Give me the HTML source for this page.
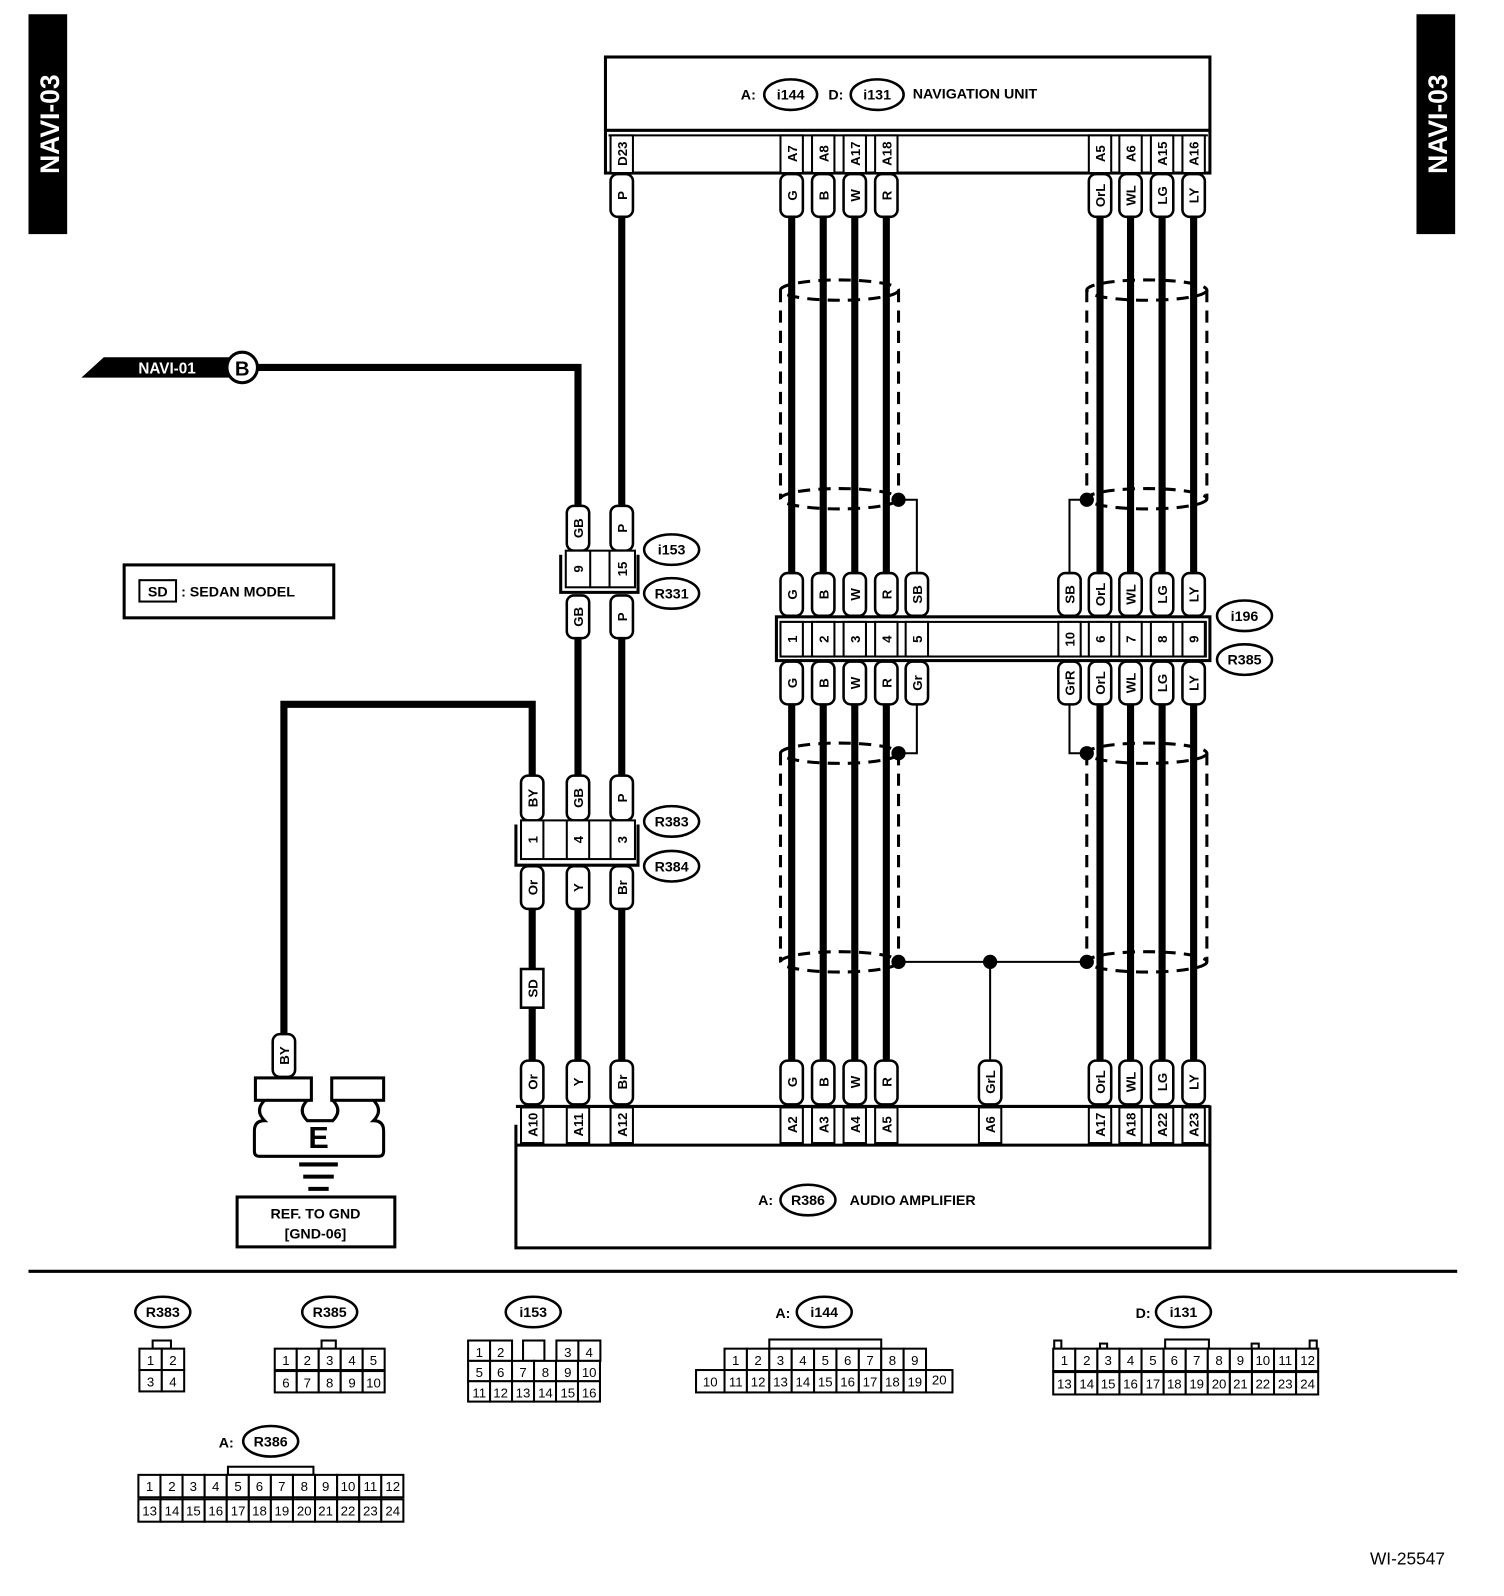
<!DOCTYPE html>
<html><head><meta charset="utf-8"><style>
html,body{margin:0;padding:0;background:#fff;}
svg{display:block}
text{font-family:"Liberation Sans",sans-serif;font-weight:bold;fill:#000}
.t{fill:#fff;stroke:#000;stroke-width:2.5}
.tx{font-size:13px;text-anchor:middle}
.w{stroke:#000;stroke-width:7;fill:none}
.tn{stroke:#000;stroke-width:2;fill:none}
.b{fill:none;stroke:#000;stroke-width:3}
.ds{fill:none;stroke:#000;stroke-width:3;stroke-dasharray:12 8}
.ov{fill:#fff;stroke:#000;stroke-width:2.5}
.ot{font-size:14px;text-anchor:middle}
.c{fill:#fff;stroke:#000;stroke-width:2}
.cn{font-size:13px;text-anchor:middle;font-weight:normal}
</style></head><body>
<svg width="1504" height="1596" viewBox="0 0 1478 1568" preserveAspectRatio="none" xmlns="http://www.w3.org/2000/svg">
<rect x="28" y="14" width="38" height="216" fill="#000"/>
<text transform="translate(58,122) rotate(-90)" style="font-size:26px;fill:#fff;text-anchor:middle">NAVI-03</text>
<rect x="1392" y="14" width="38" height="216" fill="#000"/>
<text transform="translate(1422,122) rotate(-90)" style="font-size:26px;fill:#fff;text-anchor:middle">NAVI-03</text>

<rect x="595" y="56" width="594" height="114" class="b"/>
<line x1="595" y1="128" x2="1189" y2="128" stroke="#000" stroke-width="3"/>
<line x1="598" y1="133" x2="1187" y2="133" stroke="#000" stroke-width="2"/>
<line x1="598" y1="170" x2="1187" y2="170" stroke="#000" stroke-width="2"/>
<text x="728" y="98" style="font-size:14px">A:</text>
<ellipse cx="777" cy="93" rx="26" ry="15" class="ov"/><text x="777" y="98" class="ot">i144</text>
<text x="814" y="98" style="font-size:14px">D:</text>
<ellipse cx="862" cy="93" rx="26" ry="15" class="ov"/><text x="862" y="98" class="ot">i131</text>
<text x="897" y="97" style="font-size:14px">NAVIGATION UNIT</text>
<g>
<rect x="600" y="133" width="22" height="37" class="c"/><text transform="translate(616,151) rotate(-90)" class="tx">D23</text>
<rect x="767" y="133" width="22" height="37" class="c"/><text transform="translate(783,151) rotate(-90)" class="tx">A7</text>
<rect x="798" y="133" width="22" height="37" class="c"/><text transform="translate(814,151) rotate(-90)" class="tx">A8</text>
<rect x="829" y="133" width="22" height="37" class="c"/><text transform="translate(845,151) rotate(-90)" class="tx">A17</text>
<rect x="860" y="133" width="22" height="37" class="c"/><text transform="translate(876,151) rotate(-90)" class="tx">A18</text>
<rect x="1070" y="133" width="22" height="37" class="c"/><text transform="translate(1086,151) rotate(-90)" class="tx">A5</text>
<rect x="1100" y="133" width="22" height="37" class="c"/><text transform="translate(1116,151) rotate(-90)" class="tx">A6</text>
<rect x="1131" y="133" width="22" height="37" class="c"/><text transform="translate(1147,151) rotate(-90)" class="tx">A15</text>
<rect x="1162" y="133" width="22" height="37" class="c"/><text transform="translate(1178,151) rotate(-90)" class="tx">A16</text>
</g>

<g class="w">
<line x1="611" y1="210" x2="611" y2="500"/>
<line x1="611" y1="625" x2="611" y2="765"/>
<line x1="568" y1="625" x2="568" y2="765"/>
<polyline points="240,361 568,361 568,500"/>
<polyline points="523,765 523,692 279,692 279,1018"/>
<line x1="523" y1="890" x2="523" y2="1043"/>
<line x1="568" y1="890" x2="568" y2="1043"/>
<line x1="611" y1="890" x2="611" y2="1043"/>
<line x1="778" y1="210" x2="778" y2="566"/><line x1="809" y1="210" x2="809" y2="566"/><line x1="840" y1="210" x2="840" y2="566"/><line x1="871" y1="210" x2="871" y2="566"/>
<line x1="1081" y1="210" x2="1081" y2="566"/><line x1="1111" y1="210" x2="1111" y2="566"/><line x1="1142" y1="210" x2="1142" y2="566"/><line x1="1173" y1="210" x2="1173" y2="566"/>
<line x1="778" y1="690" x2="778" y2="1043"/><line x1="809" y1="690" x2="809" y2="1043"/><line x1="840" y1="690" x2="840" y2="1043"/><line x1="871" y1="690" x2="871" y2="1043"/>
<line x1="1081" y1="690" x2="1081" y2="1043"/><line x1="1111" y1="690" x2="1111" y2="1043"/><line x1="1142" y1="690" x2="1142" y2="1043"/><line x1="1173" y1="690" x2="1173" y2="1043"/>
</g>
<g class="tn">
<polyline points="883,491 901,491 901,566"/>
<polyline points="1068,491 1051,491 1051,566"/>
<polyline points="901,690 901,740 883,740"/>
<polyline points="1051,690 1051,740 1068,740"/>
<line x1="883" y1="945" x2="1068" y2="945"/>
<line x1="973" y1="945" x2="973" y2="1043"/>
</g>
<g fill="#000">
<circle cx="883" cy="491" r="7"/><circle cx="1068" cy="491" r="7"/>
<circle cx="883" cy="740" r="7"/><circle cx="1068" cy="740" r="7"/>
<circle cx="883" cy="945" r="7"/><circle cx="1068" cy="945" r="7"/><circle cx="973" cy="945" r="7"/>
</g>
<g class="ds">
<ellipse cx="825" cy="285" rx="58" ry="10"/><ellipse cx="825" cy="490" rx="58" ry="10"/>
<line x1="767" y1="285" x2="767" y2="490"/><line x1="883" y1="285" x2="883" y2="490"/>
<ellipse cx="1127" cy="285" rx="59" ry="10"/><ellipse cx="1127" cy="490" rx="59" ry="10"/>
<line x1="1068" y1="285" x2="1068" y2="490"/><line x1="1186" y1="285" x2="1186" y2="490"/>
<ellipse cx="825" cy="740" rx="58" ry="10"/><ellipse cx="825" cy="945" rx="58" ry="10"/>
<line x1="767" y1="740" x2="767" y2="945"/><line x1="883" y1="740" x2="883" y2="945"/>
<ellipse cx="1127" cy="740" rx="59" ry="10"/><ellipse cx="1127" cy="945" rx="59" ry="10"/>
<line x1="1068" y1="740" x2="1068" y2="945"/><line x1="1186" y1="740" x2="1186" y2="945"/>
</g>

<g>
<rect x="600" y="171" width="22" height="42" rx="7" class="t"/><text transform="translate(616,192) rotate(-90)" class="tx">P</text>
<rect x="767" y="171" width="22" height="42" rx="7" class="t"/><text transform="translate(783,192) rotate(-90)" class="tx">G</text>
<rect x="798" y="171" width="22" height="42" rx="7" class="t"/><text transform="translate(814,192) rotate(-90)" class="tx">B</text>
<rect x="829" y="171" width="22" height="42" rx="7" class="t"/><text transform="translate(845,192) rotate(-90)" class="tx">W</text>
<rect x="860" y="171" width="22" height="42" rx="7" class="t"/><text transform="translate(876,192) rotate(-90)" class="tx">R</text>
<rect x="1070" y="171" width="22" height="42" rx="7" class="t"/><text transform="translate(1086,192) rotate(-90)" class="tx">OrL</text>
<rect x="1100" y="171" width="22" height="42" rx="7" class="t"/><text transform="translate(1116,192) rotate(-90)" class="tx">WL</text>
<rect x="1131" y="171" width="22" height="42" rx="7" class="t"/><text transform="translate(1147,192) rotate(-90)" class="tx">LG</text>
<rect x="1162" y="171" width="22" height="42" rx="7" class="t"/><text transform="translate(1178,192) rotate(-90)" class="tx">LY</text>
</g>

<polygon points="80,371 102,351 225,351 225,371" fill="#000"/>
<text x="136" y="367" style="font-size:15px;fill:#fff">NAVI-01</text>
<circle cx="238" cy="361" r="15" fill="#fff" stroke="#000" stroke-width="3"/>
<text x="238" y="369" style="font-size:20px;text-anchor:middle">B</text>

<rect x="557" y="497" width="22" height="44" rx="7" class="t"/><text transform="translate(573,519) rotate(-90)" class="tx">GB</text>
<rect x="600" y="497" width="22" height="44" rx="7" class="t"/><text transform="translate(616,519) rotate(-90)" class="tx">P</text>
<polyline points="551,545 551,582 627,582 627,545" class="b"/>
<rect x="556" y="541" width="68" height="36" class="c"/>
<line x1="580" y1="541" x2="580" y2="577" stroke="#000" stroke-width="2"/><line x1="599" y1="541" x2="599" y2="577" stroke="#000" stroke-width="2"/>
<text transform="translate(573,559) rotate(-90)" class="tx">9</text>
<text transform="translate(616,559) rotate(-90)" class="tx">15</text>
<rect x="557" y="585" width="22" height="42" rx="7" class="t"/><text transform="translate(573,606) rotate(-90)" class="tx">GB</text>
<rect x="600" y="585" width="22" height="42" rx="7" class="t"/><text transform="translate(616,606) rotate(-90)" class="tx">P</text>
<ellipse cx="660" cy="540" rx="27" ry="15" class="ov"/><text x="660" y="545" class="ot">i153</text>
<ellipse cx="660" cy="583" rx="27" ry="15" class="ov"/><text x="660" y="588" class="ot">R331</text>

<rect x="122" y="555" width="206" height="52" class="b"/>
<rect x="137" y="570" width="36" height="21" class="c"/>
<text x="155" y="586" style="font-size:14px;text-anchor:middle">SD</text>
<text x="178" y="586" style="font-size:14px">: SEDAN MODEL</text>

<g>
<rect x="767" y="563" width="22" height="42" rx="7" class="t"/><text transform="translate(783,584) rotate(-90)" class="tx">G</text>
<rect x="798" y="563" width="22" height="42" rx="7" class="t"/><text transform="translate(814,584) rotate(-90)" class="tx">B</text>
<rect x="829" y="563" width="22" height="42" rx="7" class="t"/><text transform="translate(845,584) rotate(-90)" class="tx">W</text>
<rect x="860" y="563" width="22" height="42" rx="7" class="t"/><text transform="translate(876,584) rotate(-90)" class="tx">R</text>
<rect x="890" y="563" width="22" height="42" rx="7" class="t"/><text transform="translate(906,584) rotate(-90)" class="tx">SB</text>
<rect x="1040" y="563" width="22" height="42" rx="7" class="t"/><text transform="translate(1056,584) rotate(-90)" class="tx">SB</text>
<rect x="1070" y="563" width="22" height="42" rx="7" class="t"/><text transform="translate(1086,584) rotate(-90)" class="tx">OrL</text>
<rect x="1100" y="563" width="22" height="42" rx="7" class="t"/><text transform="translate(1116,584) rotate(-90)" class="tx">WL</text>
<rect x="1131" y="563" width="22" height="42" rx="7" class="t"/><text transform="translate(1147,584) rotate(-90)" class="tx">LG</text>
<rect x="1162" y="563" width="22" height="42" rx="7" class="t"/><text transform="translate(1178,584) rotate(-90)" class="tx">LY</text>
</g>
<rect x="763" y="606" width="426" height="43" class="b"/>
<rect x="767" y="611" width="418" height="34" class="c"/>
<g>
<rect x="767" y="611" width="22" height="34" class="c"/><text transform="translate(783,628) rotate(-90)" class="tx">1</text>
<rect x="798" y="611" width="22" height="34" class="c"/><text transform="translate(814,628) rotate(-90)" class="tx">2</text>
<rect x="829" y="611" width="22" height="34" class="c"/><text transform="translate(845,628) rotate(-90)" class="tx">3</text>
<rect x="860" y="611" width="22" height="34" class="c"/><text transform="translate(876,628) rotate(-90)" class="tx">4</text>
<rect x="890" y="611" width="22" height="34" class="c"/><text transform="translate(906,628) rotate(-90)" class="tx">5</text>
<rect x="1040" y="611" width="22" height="34" class="c"/><text transform="translate(1056,628) rotate(-90)" class="tx">10</text>
<rect x="1070" y="611" width="22" height="34" class="c"/><text transform="translate(1086,628) rotate(-90)" class="tx">6</text>
<rect x="1100" y="611" width="22" height="34" class="c"/><text transform="translate(1116,628) rotate(-90)" class="tx">7</text>
<rect x="1131" y="611" width="22" height="34" class="c"/><text transform="translate(1147,628) rotate(-90)" class="tx">8</text>
<rect x="1162" y="611" width="22" height="34" class="c"/><text transform="translate(1178,628) rotate(-90)" class="tx">9</text>
</g>
<g>
<rect x="767" y="650" width="22" height="42" rx="7" class="t"/><text transform="translate(783,671) rotate(-90)" class="tx">G</text>
<rect x="798" y="650" width="22" height="42" rx="7" class="t"/><text transform="translate(814,671) rotate(-90)" class="tx">B</text>
<rect x="829" y="650" width="22" height="42" rx="7" class="t"/><text transform="translate(845,671) rotate(-90)" class="tx">W</text>
<rect x="860" y="650" width="22" height="42" rx="7" class="t"/><text transform="translate(876,671) rotate(-90)" class="tx">R</text>
<rect x="890" y="650" width="22" height="42" rx="7" class="t"/><text transform="translate(906,671) rotate(-90)" class="tx">Gr</text>
<rect x="1040" y="650" width="22" height="42" rx="7" class="t"/><text transform="translate(1056,671) rotate(-90)" class="tx">GrR</text>
<rect x="1070" y="650" width="22" height="42" rx="7" class="t"/><text transform="translate(1086,671) rotate(-90)" class="tx">OrL</text>
<rect x="1100" y="650" width="22" height="42" rx="7" class="t"/><text transform="translate(1116,671) rotate(-90)" class="tx">WL</text>
<rect x="1131" y="650" width="22" height="42" rx="7" class="t"/><text transform="translate(1147,671) rotate(-90)" class="tx">LG</text>
<rect x="1162" y="650" width="22" height="42" rx="7" class="t"/><text transform="translate(1178,671) rotate(-90)" class="tx">LY</text>
</g>
<ellipse cx="1223" cy="605" rx="27" ry="15" class="ov"/><text x="1223" y="610" class="ot">i196</text>
<ellipse cx="1223" cy="648" rx="27" ry="15" class="ov"/><text x="1223" y="653" class="ot">R385</text>

<rect x="512" y="762" width="22" height="44" rx="7" class="t"/><text transform="translate(528,784) rotate(-90)" class="tx">BY</text>
<rect x="557" y="762" width="22" height="44" rx="7" class="t"/><text transform="translate(573,784) rotate(-90)" class="tx">GB</text>
<rect x="600" y="762" width="22" height="44" rx="7" class="t"/><text transform="translate(616,784) rotate(-90)" class="tx">P</text>
<polyline points="507,810 507,850 627,850 627,810" class="b"/>
<rect x="512" y="806" width="112" height="38" class="c"/>
<g stroke="#000" stroke-width="2"><line x1="534" y1="806" x2="534" y2="844"/><line x1="557" y1="806" x2="557" y2="844"/><line x1="579" y1="806" x2="579" y2="844"/><line x1="600" y1="806" x2="600" y2="844"/></g>
<text transform="translate(528,825) rotate(-90)" class="tx">1</text>
<text transform="translate(573,825) rotate(-90)" class="tx">4</text>
<text transform="translate(616,825) rotate(-90)" class="tx">3</text>
<rect x="512" y="851" width="22" height="42" rx="7" class="t"/><text transform="translate(528,872) rotate(-90)" class="tx">Or</text>
<rect x="557" y="851" width="22" height="42" rx="7" class="t"/><text transform="translate(573,872) rotate(-90)" class="tx">Y</text>
<rect x="600" y="851" width="22" height="42" rx="7" class="t"/><text transform="translate(616,872) rotate(-90)" class="tx">Br</text>
<ellipse cx="660" cy="807" rx="27" ry="15" class="ov"/><text x="660" y="812" class="ot">R383</text>
<ellipse cx="660" cy="851" rx="27" ry="15" class="ov"/><text x="660" y="856" class="ot">R384</text>

<rect x="512" y="952" width="22" height="38" class="c" style="stroke-width:2.5"/><text transform="translate(528,971) rotate(-90)" class="tx">SD</text>

<rect x="268" y="1016" width="22" height="42" rx="7" class="t"/><text transform="translate(284,1037) rotate(-90)" class="tx">BY</text>
<rect x="251" y="1059" width="55" height="22" class="b"/>
<rect x="326" y="1059" width="51" height="22" class="b"/>
<path d="M260,1081 q-10,10 0,20 q-10,0 -10,10 v20 q0,5 5,5 h117 q5,0 5,-5 v-20 q0,-10 -10,-10 q10,-10 0,-20 M302,1081 q-10,10 0,20 h25 q10,-10 0,-20" class="b"/>
<text x="313" y="1128" style="font-size:30px;text-anchor:middle">E</text>
<g stroke="#000" stroke-width="4"><line x1="294" y1="1144" x2="332" y2="1144"/><line x1="298" y1="1156" x2="328" y2="1156"/><line x1="303" y1="1168" x2="323" y2="1168"/></g>
<rect x="233" y="1176" width="155" height="49" class="b"/>
<text x="310" y="1197" style="font-size:14px;text-anchor:middle">REF. TO GND</text>
<text x="310" y="1217" style="font-size:14px;text-anchor:middle">[GND-06]</text>

<g>
<rect x="512" y="1042" width="22" height="43" rx="7" class="t"/><text transform="translate(528,1063) rotate(-90)" class="tx">Or</text>
<rect x="557" y="1042" width="22" height="43" rx="7" class="t"/><text transform="translate(573,1063) rotate(-90)" class="tx">Y</text>
<rect x="600" y="1042" width="22" height="43" rx="7" class="t"/><text transform="translate(616,1063) rotate(-90)" class="tx">Br</text>
<rect x="767" y="1042" width="22" height="43" rx="7" class="t"/><text transform="translate(783,1063) rotate(-90)" class="tx">G</text>
<rect x="798" y="1042" width="22" height="43" rx="7" class="t"/><text transform="translate(814,1063) rotate(-90)" class="tx">B</text>
<rect x="829" y="1042" width="22" height="43" rx="7" class="t"/><text transform="translate(845,1063) rotate(-90)" class="tx">W</text>
<rect x="860" y="1042" width="22" height="43" rx="7" class="t"/><text transform="translate(876,1063) rotate(-90)" class="tx">R</text>
<rect x="962" y="1042" width="22" height="43" rx="7" class="t"/><text transform="translate(978,1063) rotate(-90)" class="tx">GrL</text>
<rect x="1070" y="1042" width="22" height="43" rx="7" class="t"/><text transform="translate(1086,1063) rotate(-90)" class="tx">OrL</text>
<rect x="1100" y="1042" width="22" height="43" rx="7" class="t"/><text transform="translate(1116,1063) rotate(-90)" class="tx">WL</text>
<rect x="1131" y="1042" width="22" height="43" rx="7" class="t"/><text transform="translate(1147,1063) rotate(-90)" class="tx">LG</text>
<rect x="1162" y="1042" width="22" height="43" rx="7" class="t"/><text transform="translate(1178,1063) rotate(-90)" class="tx">LY</text>
</g>

<polyline points="507,1105 507,1226 1189,1226 1189,1086" class="b"/>
<line x1="507" y1="1087" x2="1189" y2="1087" stroke="#000" stroke-width="3"/>
<line x1="507" y1="1125" x2="1189" y2="1125" stroke="#000" stroke-width="3"/>
<g>
<rect x="512" y="1088" width="22" height="35" class="c"/><text transform="translate(528,1105) rotate(-90)" class="tx">A10</text>
<rect x="557" y="1088" width="22" height="35" class="c"/><text transform="translate(573,1105) rotate(-90)" class="tx">A11</text>
<rect x="600" y="1088" width="22" height="35" class="c"/><text transform="translate(616,1105) rotate(-90)" class="tx">A12</text>
<rect x="767" y="1088" width="22" height="35" class="c"/><text transform="translate(783,1105) rotate(-90)" class="tx">A2</text>
<rect x="798" y="1088" width="22" height="35" class="c"/><text transform="translate(814,1105) rotate(-90)" class="tx">A3</text>
<rect x="829" y="1088" width="22" height="35" class="c"/><text transform="translate(845,1105) rotate(-90)" class="tx">A4</text>
<rect x="860" y="1088" width="22" height="35" class="c"/><text transform="translate(876,1105) rotate(-90)" class="tx">A5</text>
<rect x="962" y="1088" width="22" height="35" class="c"/><text transform="translate(978,1105) rotate(-90)" class="tx">A6</text>
<rect x="1070" y="1088" width="22" height="35" class="c"/><text transform="translate(1086,1105) rotate(-90)" class="tx">A17</text>
<rect x="1100" y="1088" width="22" height="35" class="c"/><text transform="translate(1116,1105) rotate(-90)" class="tx">A18</text>
<rect x="1131" y="1088" width="22" height="35" class="c"/><text transform="translate(1147,1105) rotate(-90)" class="tx">A22</text>
<rect x="1162" y="1088" width="22" height="35" class="c"/><text transform="translate(1178,1105) rotate(-90)" class="tx">A23</text>
</g>
<text x="745" y="1184" style="font-size:14px">A:</text>
<ellipse cx="794" cy="1179" rx="27" ry="15" class="ov"/><text x="794" y="1184" class="ot">R386</text>
<text x="835" y="1184" style="font-size:14px">AUDIO AMPLIFIER</text>

<line x1="28" y1="1249" x2="1432" y2="1249" stroke="#000" stroke-width="3"/>

<ellipse cx="160" cy="1289" rx="27" ry="15" class="ov"/><text x="160" y="1294" class="ot">R383</text>
<rect x="150" y="1317" width="18" height="8" class="c"/>
<rect x="137" y="1325" width="22" height="21" class="c"/><text x="148" y="1341" class="cn">1</text>
<rect x="159" y="1325" width="22" height="21" class="c"/><text x="170" y="1341" class="cn">2</text>
<rect x="137" y="1346" width="22" height="21" class="c"/><text x="148" y="1362" class="cn">3</text>
<rect x="159" y="1346" width="22" height="21" class="c"/><text x="170" y="1362" class="cn">4</text>

<ellipse cx="324" cy="1289" rx="27" ry="15" class="ov"/><text x="324" y="1294" class="ot">R385</text>
<rect x="316" y="1317" width="14" height="8" class="c"/>
<g>
<rect x="270" y="1325" width="21.6" height="21" class="c"/><text x="281" y="1341" class="cn">1</text>
<rect x="291.6" y="1325" width="21.6" height="21" class="c"/><text x="302" y="1341" class="cn">2</text>
<rect x="313.2" y="1325" width="21.6" height="21" class="c"/><text x="324" y="1341" class="cn">3</text>
<rect x="334.8" y="1325" width="21.6" height="21" class="c"/><text x="346" y="1341" class="cn">4</text>
<rect x="356.4" y="1325" width="21.6" height="21" class="c"/><text x="367" y="1341" class="cn">5</text>
<rect x="270" y="1347" width="21.6" height="21" class="c"/><text x="281" y="1363" class="cn">6</text>
<rect x="291.6" y="1347" width="21.6" height="21" class="c"/><text x="302" y="1363" class="cn">7</text>
<rect x="313.2" y="1347" width="21.6" height="21" class="c"/><text x="324" y="1363" class="cn">8</text>
<rect x="334.8" y="1347" width="21.6" height="21" class="c"/><text x="346" y="1363" class="cn">9</text>
<rect x="356.4" y="1347" width="21.6" height="21" class="c"/><text x="367" y="1363" class="cn">10</text>
</g>

<ellipse cx="524" cy="1289" rx="27" ry="15" class="ov"/><text x="524" y="1294" class="ot">i153</text>
<g>
<rect x="460" y="1317" width="21.6" height="20" class="c"/><text x="471" y="1333" class="cn">1</text>
<rect x="481.6" y="1317" width="21.6" height="20" class="c"/><text x="492" y="1333" class="cn">2</text>
<rect x="514" y="1317" width="21" height="20" class="c"/>
<rect x="546.8" y="1317" width="21.6" height="20" class="c"/><text x="558" y="1333" class="cn">3</text>
<rect x="568.4" y="1317" width="21.6" height="20" class="c"/><text x="579" y="1333" class="cn">4</text>
<rect x="460" y="1337" width="21.6" height="20" class="c"/><text x="471" y="1353" class="cn">5</text>
<rect x="481.6" y="1337" width="21.6" height="20" class="c"/><text x="492" y="1353" class="cn">6</text>
<rect x="503.2" y="1337" width="21.6" height="20" class="c"/><text x="514" y="1353" class="cn">7</text>
<rect x="524.8" y="1337" width="21.6" height="20" class="c"/><text x="536" y="1353" class="cn">8</text>
<rect x="546.4" y="1337" width="21.6" height="20" class="c"/><text x="558" y="1353" class="cn">9</text>
<rect x="568" y="1337" width="21.6" height="20" class="c"/><text x="579" y="1353" class="cn">10</text>
<rect x="460" y="1357" width="21.6" height="20" class="c"/><text x="471" y="1373" class="cn">11</text>
<rect x="481.6" y="1357" width="21.6" height="20" class="c"/><text x="492" y="1373" class="cn">12</text>
<rect x="503.2" y="1357" width="21.6" height="20" class="c"/><text x="514" y="1373" class="cn">13</text>
<rect x="524.8" y="1357" width="21.6" height="20" class="c"/><text x="536" y="1373" class="cn">14</text>
<rect x="546.4" y="1357" width="21.6" height="20" class="c"/><text x="558" y="1373" class="cn">15</text>
<rect x="568" y="1357" width="21.6" height="20" class="c"/><text x="579" y="1373" class="cn">16</text>
</g>

<text x="762" y="1295" style="font-size:14px">A:</text>
<ellipse cx="810" cy="1289" rx="27" ry="15" class="ov"/><text x="810" y="1294" class="ot">i144</text>
<rect x="756" y="1316" width="110" height="9" class="c"/>
<g>
<rect x="712" y="1325" width="22" height="21" class="c"/><text x="723" y="1341" class="cn">1</text>
<rect x="734" y="1325" width="22" height="21" class="c"/><text x="745" y="1341" class="cn">2</text>
<rect x="756" y="1325" width="22" height="21" class="c"/><text x="767" y="1341" class="cn">3</text>
<rect x="778" y="1325" width="22" height="21" class="c"/><text x="789" y="1341" class="cn">4</text>
<rect x="800" y="1325" width="22" height="21" class="c"/><text x="811" y="1341" class="cn">5</text>
<rect x="822" y="1325" width="22" height="21" class="c"/><text x="833" y="1341" class="cn">6</text>
<rect x="844" y="1325" width="22" height="21" class="c"/><text x="855" y="1341" class="cn">7</text>
<rect x="866" y="1325" width="22" height="21" class="c"/><text x="877" y="1341" class="cn">8</text>
<rect x="888" y="1325" width="22" height="21" class="c"/><text x="899" y="1341" class="cn">9</text>
<rect x="684" y="1346" width="28" height="22" class="c"/><text x="698" y="1362" class="cn">10</text>
<rect x="712" y="1346" width="22" height="22" class="c"/><text x="723" y="1362" class="cn">11</text>
<rect x="734" y="1346" width="22" height="22" class="c"/><text x="745" y="1362" class="cn">12</text>
<rect x="756" y="1346" width="22" height="22" class="c"/><text x="767" y="1362" class="cn">13</text>
<rect x="778" y="1346" width="22" height="22" class="c"/><text x="789" y="1362" class="cn">14</text>
<rect x="800" y="1346" width="22" height="22" class="c"/><text x="811" y="1362" class="cn">15</text>
<rect x="822" y="1346" width="22" height="22" class="c"/><text x="833" y="1362" class="cn">16</text>
<rect x="844" y="1346" width="22" height="22" class="c"/><text x="855" y="1362" class="cn">17</text>
<rect x="866" y="1346" width="22" height="22" class="c"/><text x="877" y="1362" class="cn">18</text>
<rect x="888" y="1346" width="22" height="22" class="c"/><text x="899" y="1362" class="cn">19</text>
<rect x="910" y="1346" width="26" height="22" class="c"/><text x="923" y="1360" class="cn">20</text>
</g>

<text x="1116" y="1295" style="font-size:14px">D:</text>
<ellipse cx="1163" cy="1289" rx="27" ry="15" class="ov"/><text x="1163" y="1294" class="ot">i131</text>
<g>
<rect x="1036" y="1317" width="7" height="8" class="c"/>
<rect x="1081" y="1320" width="7" height="5" class="c"/>
<rect x="1145" y="1316" width="43" height="9" class="c"/>
<rect x="1230" y="1320" width="7" height="5" class="c"/>
<rect x="1287" y="1317" width="7" height="8" class="c"/>
</g>
<g>
<rect x="1035" y="1325" width="21.7" height="22" class="c"/><text x="1046" y="1341" class="cn">1</text>
<rect x="1056.7" y="1325" width="21.7" height="22" class="c"/><text x="1068" y="1341" class="cn">2</text>
<rect x="1078.4" y="1325" width="21.7" height="22" class="c"/><text x="1089" y="1341" class="cn">3</text>
<rect x="1100.1" y="1325" width="21.7" height="22" class="c"/><text x="1111" y="1341" class="cn">4</text>
<rect x="1121.8" y="1325" width="21.7" height="22" class="c"/><text x="1133" y="1341" class="cn">5</text>
<rect x="1143.5" y="1325" width="21.7" height="22" class="c"/><text x="1154" y="1341" class="cn">6</text>
<rect x="1165.2" y="1325" width="21.7" height="22" class="c"/><text x="1176" y="1341" class="cn">7</text>
<rect x="1186.9" y="1325" width="21.7" height="22" class="c"/><text x="1198" y="1341" class="cn">8</text>
<rect x="1208.6" y="1325" width="21.7" height="22" class="c"/><text x="1219" y="1341" class="cn">9</text>
<rect x="1230.3" y="1325" width="21.7" height="22" class="c"/><text x="1241" y="1341" class="cn">10</text>
<rect x="1252" y="1325" width="21.7" height="22" class="c"/><text x="1263" y="1341" class="cn">11</text>
<rect x="1273.7" y="1325" width="21.7" height="22" class="c"/><text x="1285" y="1341" class="cn">12</text>
<rect x="1035" y="1348" width="21.7" height="22" class="c"/><text x="1046" y="1364" class="cn">13</text>
<rect x="1056.7" y="1348" width="21.7" height="22" class="c"/><text x="1068" y="1364" class="cn">14</text>
<rect x="1078.4" y="1348" width="21.7" height="22" class="c"/><text x="1089" y="1364" class="cn">15</text>
<rect x="1100.1" y="1348" width="21.7" height="22" class="c"/><text x="1111" y="1364" class="cn">16</text>
<rect x="1121.8" y="1348" width="21.7" height="22" class="c"/><text x="1133" y="1364" class="cn">17</text>
<rect x="1143.5" y="1348" width="21.7" height="22" class="c"/><text x="1154" y="1364" class="cn">18</text>
<rect x="1165.2" y="1348" width="21.7" height="22" class="c"/><text x="1176" y="1364" class="cn">19</text>
<rect x="1186.9" y="1348" width="21.7" height="22" class="c"/><text x="1198" y="1364" class="cn">20</text>
<rect x="1208.6" y="1348" width="21.7" height="22" class="c"/><text x="1219" y="1364" class="cn">21</text>
<rect x="1230.3" y="1348" width="21.7" height="22" class="c"/><text x="1241" y="1364" class="cn">22</text>
<rect x="1252" y="1348" width="21.7" height="22" class="c"/><text x="1263" y="1364" class="cn">23</text>
<rect x="1273.7" y="1348" width="21.7" height="22" class="c"/><text x="1285" y="1364" class="cn">24</text>
</g>

<text x="215" y="1422" style="font-size:14px">A:</text>
<ellipse cx="266" cy="1416" rx="27" ry="15" class="ov"/><text x="266" y="1421" class="ot">R386</text>
<rect x="224" y="1441" width="84" height="8" class="c"/>
<g>
<rect x="136" y="1449" width="21.7" height="22" class="c"/><text x="147" y="1465" class="cn">1</text>
<rect x="157.7" y="1449" width="21.7" height="22" class="c"/><text x="169" y="1465" class="cn">2</text>
<rect x="179.4" y="1449" width="21.7" height="22" class="c"/><text x="190" y="1465" class="cn">3</text>
<rect x="201.1" y="1449" width="21.7" height="22" class="c"/><text x="212" y="1465" class="cn">4</text>
<rect x="222.8" y="1449" width="21.7" height="22" class="c"/><text x="234" y="1465" class="cn">5</text>
<rect x="244.5" y="1449" width="21.7" height="22" class="c"/><text x="255" y="1465" class="cn">6</text>
<rect x="266.2" y="1449" width="21.7" height="22" class="c"/><text x="277" y="1465" class="cn">7</text>
<rect x="287.9" y="1449" width="21.7" height="22" class="c"/><text x="299" y="1465" class="cn">8</text>
<rect x="309.6" y="1449" width="21.7" height="22" class="c"/><text x="320" y="1465" class="cn">9</text>
<rect x="331.3" y="1449" width="21.7" height="22" class="c"/><text x="342" y="1465" class="cn">10</text>
<rect x="353" y="1449" width="21.7" height="22" class="c"/><text x="364" y="1465" class="cn">11</text>
<rect x="374.7" y="1449" width="21.7" height="22" class="c"/><text x="386" y="1465" class="cn">12</text>
<rect x="136" y="1473" width="21.7" height="22" class="c"/><text x="147" y="1489" class="cn">13</text>
<rect x="157.7" y="1473" width="21.7" height="22" class="c"/><text x="169" y="1489" class="cn">14</text>
<rect x="179.4" y="1473" width="21.7" height="22" class="c"/><text x="190" y="1489" class="cn">15</text>
<rect x="201.1" y="1473" width="21.7" height="22" class="c"/><text x="212" y="1489" class="cn">16</text>
<rect x="222.8" y="1473" width="21.7" height="22" class="c"/><text x="234" y="1489" class="cn">17</text>
<rect x="244.5" y="1473" width="21.7" height="22" class="c"/><text x="255" y="1489" class="cn">18</text>
<rect x="266.2" y="1473" width="21.7" height="22" class="c"/><text x="277" y="1489" class="cn">19</text>
<rect x="287.9" y="1473" width="21.7" height="22" class="c"/><text x="299" y="1489" class="cn">20</text>
<rect x="309.6" y="1473" width="21.7" height="22" class="c"/><text x="320" y="1489" class="cn">21</text>
<rect x="331.3" y="1473" width="21.7" height="22" class="c"/><text x="342" y="1489" class="cn">22</text>
<rect x="353" y="1473" width="21.7" height="22" class="c"/><text x="364" y="1489" class="cn">23</text>
<rect x="374.7" y="1473" width="21.7" height="22" class="c"/><text x="386" y="1489" class="cn">24</text>
</g>

<text x="1420" y="1537" style="font-size:17px;font-weight:normal;text-anchor:end">WI-25547</text>
</svg>
</body></html>
